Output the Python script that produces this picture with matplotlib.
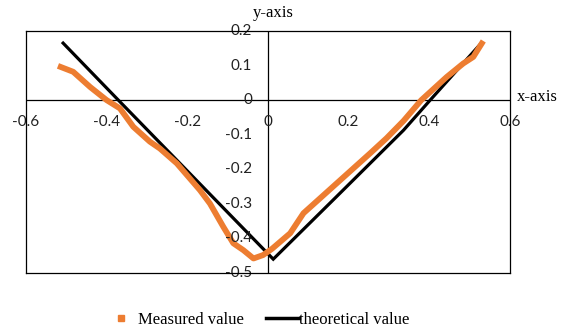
import matplotlib
matplotlib.use("Agg")
import matplotlib.pyplot as plt
from matplotlib.lines import Line2D

# ---- data ----
measured_x = [-0.514, -0.483, -0.441, -0.400, -0.367, -0.334, -0.293, -0.268, -0.226,
              -0.169, -0.144, -0.111, -0.086, -0.061, -0.036, -0.012, 0.010, 0.055,
              0.088, 0.170, 0.253, 0.294, 0.336, 0.380, 0.443, 0.484, 0.509, 0.530]
measured_y = [0.096, 0.082, 0.038, 0.000, -0.024, -0.077, -0.120, -0.140, -0.183,
              -0.260, -0.299, -0.366, -0.414, -0.434, -0.458, -0.448, -0.430, -0.385,
              -0.327, -0.241, -0.154, -0.110, -0.060, 0.000, 0.067, 0.106, 0.125, 0.164]
theory_x = [-0.508, -0.371, 0.013, 0.170, 0.336, 0.402, 0.525]
theory_y = [0.165, 0.000, -0.460, -0.279, -0.087, 0.000, 0.160]
xticks = [-0.6, -0.4, -0.2, 0, 0.2, 0.4, 0.6]
yticks = [0.2, 0.1, 0, -0.1, -0.2, -0.3, -0.4, -0.5]
series_labels = ["Measured value", "theoretical value"]
orange = "#ED7D31"

fig = plt.figure(figsize=(5.65, 3.31), dpi=100)
ax = fig.add_axes([26/565, 1-273/331, (510-26)/565, (273-31)/331])
ax.set_xlim(-0.6, 0.6)
ax.set_ylim(-0.5, 0.2)
ax.set_xticks([])
ax.set_yticks([])
for s in ax.spines.values():
    s.set_linewidth(0.9)
    s.set_color("black")
    s.set_zorder(5)

ax.axhline(0, color="black", lw=0.9, zorder=1)
ax.axvline(0, color="black", lw=0.9, zorder=1)

ax.plot(measured_x, measured_y, color=orange, lw=4.2,
        solid_joinstyle="round", solid_capstyle="projecting", zorder=3)
ax.plot(theory_x, theory_y, color="black", lw=2.3, zorder=2,
        solid_joinstyle="miter")

tickfont = dict(family="Lato", size=11, color="#222222")
for v in xticks:
    ax.annotate(f"{v:g}", xy=(v, 0), xytext=(0, -16), textcoords="offset points",
                ha="center", va="center", annotation_clip=False, zorder=4, **tickfont)
for v in yticks:
    ax.annotate(f"{v:g}", xy=(0, v), xytext=(-11.5, 0), textcoords="offset points",
                ha="right", va="center", annotation_clip=False, zorder=4, **tickfont)

serif = dict(family="Liberation Serif", size=12)
fig.text(273/565, 1-13/331, "y-axis", ha="center", va="center", **serif)
fig.text(517/565, 1-97/331, "x-axis", ha="left", va="center", **serif)

handles = [Line2D([], [], color=orange, marker="s", ms=4, ls="none"),
           Line2D([], [], color="black", lw=2.5)]
fig.legend(handles, series_labels, loc="center", bbox_to_anchor=(257/565, 1-320/331),
           ncol=2, frameon=False, prop={"family": "Liberation Serif", "size": 12},
           handlelength=2.0, handletextpad=0.0, columnspacing=1.3)

fig.savefig("out.png", dpi=100)
